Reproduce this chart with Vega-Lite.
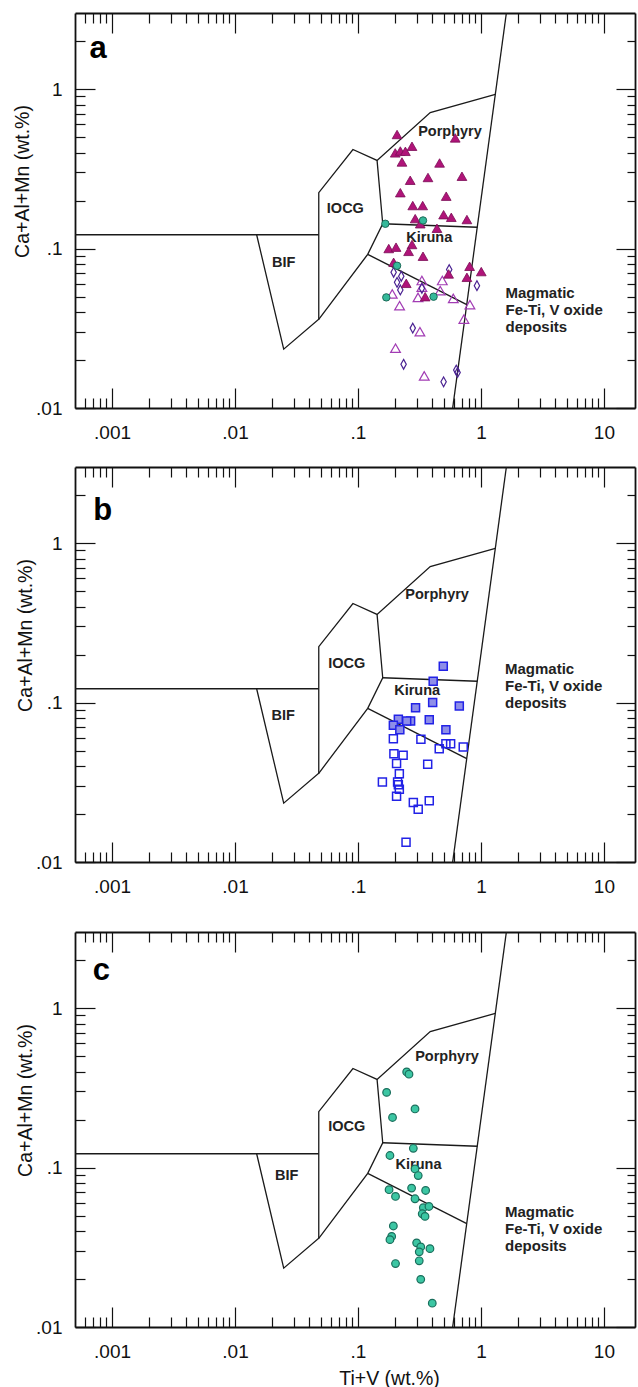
{
  "$schema": "https://vega.github.io/schema/vega-lite/v6.json",
  "background": "white",
  "padding": {"left": 12, "top": 12, "right": 2, "bottom": 0},
  "spacing": 24,
  "config": {
    "view": {"stroke": null},
    "font": "Liberation Sans",
    "axis": {"grid": false, "labelFont": "Liberation Sans", "titleFont": "Liberation Sans", "labelColor": "#111", "titleColor": "#111", "tickColor": "#111", "domainColor": "#111", "labelFontSize": 19, "titleFontSize": 19.5, "titleFontWeight": "normal", "labelOverlap": false, "labelFlush": false, "tickWidth": 1.2, "domainWidth": 1.8}
  },
  "datasets": {
    "bounds": [
      {"path": 1, "ord": 1, "x": 0.0004, "y": 0.122}, {"path": 1, "ord": 2, "x": 0.048, "y": 0.122},
      {"path": 2, "ord": 1, "x": 0.015, "y": 0.122}, {"path": 2, "ord": 2, "x": 0.0249, "y": 0.0234}, {"path": 2, "ord": 3, "x": 0.048, "y": 0.036}, {"path": 2, "ord": 4, "x": 0.048, "y": 0.224}, {"path": 2, "ord": 5, "x": 0.091, "y": 0.418}, {"path": 2, "ord": 6, "x": 0.143, "y": 0.357}, {"path": 2, "ord": 7, "x": 0.387, "y": 0.713}, {"path": 2, "ord": 8, "x": 1.31, "y": 0.926},
      {"path": 3, "ord": 1, "x": 0.143, "y": 0.357}, {"path": 3, "ord": 2, "x": 0.159, "y": 0.143}, {"path": 3, "ord": 3, "x": 0.12, "y": 0.092}, {"path": 3, "ord": 4, "x": 0.048, "y": 0.036},
      {"path": 4, "ord": 1, "x": 0.159, "y": 0.143}, {"path": 4, "ord": 2, "x": 0.933, "y": 0.136},
      {"path": 5, "ord": 1, "x": 0.12, "y": 0.092}, {"path": 5, "ord": 2, "x": 0.767, "y": 0.0445},
      {"path": 6, "ord": 1, "x": 0.589, "y": 0.01}, {"path": 6, "ord": 2, "x": 1.61, "y": 3.0}
    ],
    "la": [
      {"kind": "region", "label": "BIF", "x": 0.0249, "y": 0.081},
      {"kind": "region", "label": "IOCG", "x": 0.079, "y": 0.178},
      {"kind": "region", "label": "Porphyry", "x": 0.56, "y": 0.539},
      {"kind": "region", "label": "Kiruna", "x": 0.38, "y": 0.117},
      {"kind": "magmatic", "label": "Magmatic\nFe-Ti, V oxide\ndeposits", "x": 1.585, "y": 0.0585},
      {"kind": "letter", "label": "a", "x": 0.00077, "y": 1.78}
    ],
    "lb": [
      {"kind": "region", "label": "BIF", "x": 0.0247, "y": 0.082},
      {"kind": "region", "label": "IOCG", "x": 0.081, "y": 0.175},
      {"kind": "region", "label": "Porphyry", "x": 0.44, "y": 0.47},
      {"kind": "region", "label": "Kiruna", "x": 0.303, "y": 0.118},
      {"kind": "magmatic", "label": "Magmatic\nFe-Ti, V oxide\ndeposits", "x": 1.57, "y": 0.18},
      {"kind": "letter", "label": "b", "x": 0.00084, "y": 1.6}
    ],
    "lc": [
      {"kind": "region", "label": "BIF", "x": 0.0263, "y": 0.0883},
      {"kind": "region", "label": "IOCG", "x": 0.081, "y": 0.179},
      {"kind": "region", "label": "Porphyry", "x": 0.53, "y": 0.496},
      {"kind": "region", "label": "Kiruna", "x": 0.311, "y": 0.103},
      {"kind": "magmatic", "label": "Magmatic\nFe-Ti, V oxide\ndeposits", "x": 1.57, "y": 0.058},
      {"kind": "letter", "label": "c", "x": 0.00082, "y": 1.7}
    ],
    "pa": [
      {"type": "ft", "x": 0.208, "y": 0.519}, {"type": "ft", "x": 0.618, "y": 0.494}, {"type": "ft", "x": 0.275, "y": 0.438}, {"type": "ft", "x": 0.201, "y": 0.398}, {"type": "ft", "x": 0.221, "y": 0.409}, {"type": "ft", "x": 0.243, "y": 0.407}, {"type": "ft", "x": 0.228, "y": 0.349}, {"type": "ft", "x": 0.461, "y": 0.344}, {"type": "ft", "x": 0.266, "y": 0.268}, {"type": "ft", "x": 0.371, "y": 0.279}, {"type": "ft", "x": 0.701, "y": 0.284}, {"type": "ft", "x": 0.221, "y": 0.224}, {"type": "ft", "x": 0.522, "y": 0.213}, {"type": "ft", "x": 0.279, "y": 0.186}, {"type": "ft", "x": 0.336, "y": 0.186}, {"type": "ft", "x": 0.497, "y": 0.163}, {"type": "ft", "x": 0.574, "y": 0.157}, {"type": "ft", "x": 0.769, "y": 0.152}, {"type": "ft", "x": 0.292, "y": 0.154}, {"type": "ft", "x": 0.321, "y": 0.143}, {"type": "ft", "x": 0.439, "y": 0.134}, {"type": "ft", "x": 0.178, "y": 0.1}, {"type": "ft", "x": 0.204, "y": 0.102}, {"type": "ft", "x": 0.275, "y": 0.106}, {"type": "ft", "x": 0.258, "y": 0.096}, {"type": "ft", "x": 0.338, "y": 0.0895}, {"type": "ft", "x": 0.195, "y": 0.082}, {"type": "ft", "x": 0.247, "y": 0.0605}, {"type": "ft", "x": 0.809, "y": 0.0774}, {"type": "ft", "x": 1.006, "y": 0.0717}, {"type": "ft", "x": 0.546, "y": 0.0693}, {"type": "ft", "x": 0.769, "y": 0.066}, {"type": "ft", "x": 0.352, "y": 0.0499},
      {"type": "ot", "x": 0.331, "y": 0.063}, {"type": "ot", "x": 0.485, "y": 0.063}, {"type": "ot", "x": 0.331, "y": 0.0572}, {"type": "ot", "x": 0.19, "y": 0.0519}, {"type": "ot", "x": 0.308, "y": 0.0494}, {"type": "ot", "x": 0.467, "y": 0.0545}, {"type": "ot", "x": 0.596, "y": 0.0487}, {"type": "ot", "x": 0.814, "y": 0.0445}, {"type": "ot", "x": 0.218, "y": 0.0438}, {"type": "ot", "x": 0.727, "y": 0.0361}, {"type": "ot", "x": 0.319, "y": 0.0301}, {"type": "ot", "x": 0.202, "y": 0.0237}, {"type": "ot", "x": 0.346, "y": 0.0159},
      {"type": "di", "x": 0.195, "y": 0.071}, {"type": "di", "x": 0.225, "y": 0.067}, {"type": "di", "x": 0.208, "y": 0.0614}, {"type": "di", "x": 0.221, "y": 0.055}, {"type": "di", "x": 0.552, "y": 0.0738}, {"type": "di", "x": 0.331, "y": 0.0563}, {"type": "di", "x": 0.928, "y": 0.0585}, {"type": "di", "x": 0.279, "y": 0.0317}, {"type": "di", "x": 0.235, "y": 0.0188}, {"type": "di", "x": 0.497, "y": 0.0146}, {"type": "di", "x": 0.63, "y": 0.0173}, {"type": "di", "x": 0.646, "y": 0.0167},
      {"type": "tc", "x": 0.167, "y": 0.143}, {"type": "tc", "x": 0.338, "y": 0.15}, {"type": "tc", "x": 0.208, "y": 0.078}, {"type": "tc", "x": 0.17, "y": 0.0494}, {"type": "tc", "x": 0.412, "y": 0.0499}
    ],
    "pb": [
      {"type": "fs", "x": 0.494, "y": 0.169}, {"type": "fs", "x": 0.409, "y": 0.136}, {"type": "fs", "x": 0.294, "y": 0.0928}, {"type": "fs", "x": 0.405, "y": 0.1}, {"type": "fs", "x": 0.667, "y": 0.0951}, {"type": "fs", "x": 0.213, "y": 0.0785}, {"type": "fs", "x": 0.268, "y": 0.0766}, {"type": "fs", "x": 0.249, "y": 0.0766}, {"type": "fs", "x": 0.38, "y": 0.078}, {"type": "fs", "x": 0.194, "y": 0.072}, {"type": "fs", "x": 0.219, "y": 0.0676}, {"type": "fs", "x": 0.519, "y": 0.0676},
      {"type": "os", "x": 0.194, "y": 0.0593}, {"type": "os", "x": 0.325, "y": 0.0588}, {"type": "os", "x": 0.519, "y": 0.0552}, {"type": "os", "x": 0.567, "y": 0.0552}, {"type": "os", "x": 0.458, "y": 0.0513}, {"type": "os", "x": 0.718, "y": 0.0526}, {"type": "os", "x": 0.196, "y": 0.0478}, {"type": "os", "x": 0.233, "y": 0.0467}, {"type": "os", "x": 0.206, "y": 0.0414}, {"type": "os", "x": 0.369, "y": 0.041}, {"type": "os", "x": 0.217, "y": 0.0358}, {"type": "os", "x": 0.158, "y": 0.0317}, {"type": "os", "x": 0.21, "y": 0.0317}, {"type": "os", "x": 0.213, "y": 0.0305}, {"type": "os", "x": 0.217, "y": 0.0286}, {"type": "os", "x": 0.206, "y": 0.0258}, {"type": "os", "x": 0.282, "y": 0.0236}, {"type": "os", "x": 0.38, "y": 0.0242}, {"type": "os", "x": 0.309, "y": 0.0214}, {"type": "os", "x": 0.246, "y": 0.0133}
    ],
    "pc": [
      {"x": 0.249, "y": 0.398}, {"x": 0.26, "y": 0.385}, {"x": 0.171, "y": 0.296}, {"x": 0.291, "y": 0.233}, {"x": 0.191, "y": 0.206}, {"x": 0.282, "y": 0.132}, {"x": 0.182, "y": 0.119}, {"x": 0.291, "y": 0.098}, {"x": 0.309, "y": 0.0891}, {"x": 0.179, "y": 0.0726}, {"x": 0.202, "y": 0.0659}, {"x": 0.273, "y": 0.0743}, {"x": 0.355, "y": 0.0718}, {"x": 0.291, "y": 0.0637}, {"x": 0.34, "y": 0.056}, {"x": 0.378, "y": 0.057}, {"x": 0.333, "y": 0.0513}, {"x": 0.351, "y": 0.0494}, {"x": 0.194, "y": 0.043}, {"x": 0.188, "y": 0.037}, {"x": 0.182, "y": 0.0353}, {"x": 0.3, "y": 0.0337}, {"x": 0.324, "y": 0.0318}, {"x": 0.385, "y": 0.031}, {"x": 0.315, "y": 0.0296}, {"x": 0.315, "y": 0.026}, {"x": 0.202, "y": 0.025}, {"x": 0.324, "y": 0.0199}, {"x": 0.402, "y": 0.0141}
    ]
  },
  "vconcat": [
    {
      "width": 560, "height": 395,
      "resolve": {"axis": {"x": "independent", "y": "independent"}},
      "layer": [
        {"data": {"name": "bounds"}, "mark": {"type": "line", "color": "#1a1a1a", "strokeWidth": 1.3, "clip": true},
         "encoding": {
           "x": {"field": "x", "type": "quantitative", "scale": {"type": "log", "domain": [0.0005, 17.9], "nice": false}, "axis": {"orient": "bottom", "values": [0.001, 0.01, 0.1, 1, 10], "tickSize": -20, "labelPadding": 35, "labelExpr": "datum.value < 1 ? substring(toString(datum.value), 1) : toString(datum.value)", "title": null}},
           "y": {"field": "y", "type": "quantitative", "scale": {"type": "log", "domain": [0.01, 3], "nice": false}, "axis": {"orient": "left", "values": [0.01, 0.1, 1], "tickSize": -20, "labelPadding": 33, "labelExpr": "datum.value < 1 ? substring(toString(datum.value), 1) : toString(datum.value)", "title": "Ca+Al+Mn (wt.%)", "titleX": -53, "titleY": 168, "titleAlign": "center", "titleBaseline": "middle", "titleAngle": -90}},
           "detail": {"field": "path"},
           "order": {"field": "ord"}
         }},
        {"data": {"name": "la"}, "transform": [{"filter": "datum.kind == 'region'"}], "mark": {"type": "text", "font": "Liberation Sans", "fontWeight": "bold", "fontSize": 14.5, "color": "#222", "align": "center", "baseline": "middle"},
         "encoding": {
           "x": {"field": "x", "type": "quantitative", "scale": {"type": "log", "domain": [0.0005, 17.9], "nice": false}, "axis": {"orient": "bottom", "values": [0.0006, 0.0007, 0.0008, 0.0009, 0.002, 0.003, 0.004, 0.005, 0.006, 0.007, 0.008, 0.009, 0.02, 0.03, 0.04, 0.05, 0.06, 0.07, 0.08, 0.09, 0.2, 0.3, 0.4, 0.5, 0.6, 0.7, 0.8, 0.9, 2, 3, 4, 5, 6, 7, 8, 9], "tickSize": -10, "labels": false, "domain": false, "title": null}},
           "y": {"field": "y", "type": "quantitative", "scale": {"type": "log", "domain": [0.01, 3], "nice": false}, "axis": {"orient": "left", "values": [0.02, 0.03, 0.04, 0.05, 0.06, 0.07, 0.08, 0.09, 0.2, 0.3, 0.4, 0.5, 0.6, 0.7, 0.8, 0.9, 2], "tickSize": -10, "labels": false, "domain": false, "title": null}},
           "text": {"field": "label"}
         }},
        {"data": {"name": "la"}, "transform": [{"filter": "datum.kind == 'magmatic'"}], "mark": {"type": "text", "font": "Liberation Sans", "fontWeight": "bold", "fontSize": 15, "lineBreak": "\n", "lineHeight": 17, "color": "#222", "align": "left", "baseline": "top"},
         "encoding": {
           "x": {"field": "x", "type": "quantitative", "scale": {"type": "log", "domain": [0.0005, 17.9], "nice": false}, "axis": {"orient": "top", "values": [0.001, 0.01, 0.1, 1, 10], "tickSize": -20, "labels": false, "domain": true, "title": null}},
           "y": {"field": "y", "type": "quantitative", "scale": {"type": "log", "domain": [0.01, 3], "nice": false}, "axis": {"orient": "right", "values": [0.01, 0.1, 1], "tickSize": -19, "labels": false, "domain": true, "title": null}},
           "text": {"field": "label"}
         }},
        {"data": {"name": "la"}, "transform": [{"filter": "datum.kind == 'letter'"}], "mark": {"type": "text", "font": "Liberation Sans", "fontWeight": "bold", "fontSize": 31, "color": "#000", "align": "center", "baseline": "middle"},
         "encoding": {
           "x": {"field": "x", "type": "quantitative", "scale": {"type": "log", "domain": [0.0005, 17.9], "nice": false}, "axis": {"orient": "top", "values": [0.0006, 0.0007, 0.0008, 0.0009, 0.002, 0.003, 0.004, 0.005, 0.006, 0.007, 0.008, 0.009, 0.02, 0.03, 0.04, 0.05, 0.06, 0.07, 0.08, 0.09, 0.2, 0.3, 0.4, 0.5, 0.6, 0.7, 0.8, 0.9, 2, 3, 4, 5, 6, 7, 8, 9], "tickSize": -10, "labels": false, "domain": false, "title": null}},
           "y": {"field": "y", "type": "quantitative", "scale": {"type": "log", "domain": [0.01, 3], "nice": false}, "axis": {"orient": "right", "values": [0.02, 0.03, 0.04, 0.05, 0.06, 0.07, 0.08, 0.09, 0.2, 0.3, 0.4, 0.5, 0.6, 0.7, 0.8, 0.9, 2], "tickSize": -8, "labels": false, "domain": false, "title": null}},
           "text": {"field": "label"}
         }},
        {"data": {"name": "pa"}, "transform": [{"filter": "datum.type == 'ot'"}], "mark": {"type": "point", "shape": "triangle-up", "filled": false, "stroke": "#a23cb4", "strokeWidth": 1.2, "size": 95, "opacity": 1},
         "encoding": {"x": {"field": "x", "type": "quantitative", "scale": {"type": "log", "domain": [0.0005, 17.9], "nice": false}, "axis": null}, "y": {"field": "y", "type": "quantitative", "scale": {"type": "log", "domain": [0.01, 3], "nice": false}, "axis": null}}},
        {"data": {"name": "pa"}, "transform": [{"filter": "datum.type == 'di'"}], "mark": {"type": "point", "shape": "M0,-1L0.55,0L0,1L-0.55,0Z", "filled": false, "stroke": "#4a2292", "strokeWidth": 1.2, "size": 95, "opacity": 1},
         "encoding": {"x": {"field": "x", "type": "quantitative", "scale": {"type": "log", "domain": [0.0005, 17.9], "nice": false}, "axis": null}, "y": {"field": "y", "type": "quantitative", "scale": {"type": "log", "domain": [0.01, 3], "nice": false}, "axis": null}}},
        {"data": {"name": "pa"}, "transform": [{"filter": "datum.type == 'ft'"}], "mark": {"type": "point", "shape": "triangle-up", "filled": true, "fill": "#b01479", "stroke": "#7a0c55", "strokeWidth": 0.8, "size": 95, "opacity": 1},
         "encoding": {"x": {"field": "x", "type": "quantitative", "scale": {"type": "log", "domain": [0.0005, 17.9], "nice": false}, "axis": null}, "y": {"field": "y", "type": "quantitative", "scale": {"type": "log", "domain": [0.01, 3], "nice": false}, "axis": null}}},
        {"data": {"name": "pa"}, "transform": [{"filter": "datum.type == 'tc'"}], "mark": {"type": "point", "shape": "circle", "filled": true, "fill": "#35b99a", "stroke": "#1d6a58", "strokeWidth": 1, "size": 55, "opacity": 1},
         "encoding": {"x": {"field": "x", "type": "quantitative", "scale": {"type": "log", "domain": [0.0005, 17.9], "nice": false}, "axis": null}, "y": {"field": "y", "type": "quantitative", "scale": {"type": "log", "domain": [0.01, 3], "nice": false}, "axis": null}}}
      ]
    },
    {
      "width": 560, "height": 395,
      "resolve": {"axis": {"x": "independent", "y": "independent"}},
      "layer": [
        {"data": {"name": "bounds"}, "mark": {"type": "line", "color": "#1a1a1a", "strokeWidth": 1.3, "clip": true},
         "encoding": {
           "x": {"field": "x", "type": "quantitative", "scale": {"type": "log", "domain": [0.0005, 17.9], "nice": false}, "axis": {"orient": "bottom", "values": [0.001, 0.01, 0.1, 1, 10], "tickSize": -20, "labelPadding": 35, "labelExpr": "datum.value < 1 ? substring(toString(datum.value), 1) : toString(datum.value)", "title": " ", "titleFontSize": 8, "titlePadding": 3}},
           "y": {"field": "y", "type": "quantitative", "scale": {"type": "log", "domain": [0.01, 3], "nice": false}, "axis": {"orient": "left", "values": [0.01, 0.1, 1], "tickSize": -20, "labelPadding": 33, "labelExpr": "datum.value < 1 ? substring(toString(datum.value), 1) : toString(datum.value)", "title": "Ca+Al+Mn (wt.%)", "titleX": -50, "titleY": 168, "titleAlign": "center", "titleBaseline": "middle", "titleAngle": -90}},
           "detail": {"field": "path"},
           "order": {"field": "ord"}
         }},
        {"data": {"name": "lb"}, "transform": [{"filter": "datum.kind == 'region'"}], "mark": {"type": "text", "font": "Liberation Sans", "fontWeight": "bold", "fontSize": 14.5, "color": "#222", "align": "center", "baseline": "middle"},
         "encoding": {
           "x": {"field": "x", "type": "quantitative", "scale": {"type": "log", "domain": [0.0005, 17.9], "nice": false}, "axis": {"orient": "bottom", "values": [0.0006, 0.0007, 0.0008, 0.0009, 0.002, 0.003, 0.004, 0.005, 0.006, 0.007, 0.008, 0.009, 0.02, 0.03, 0.04, 0.05, 0.06, 0.07, 0.08, 0.09, 0.2, 0.3, 0.4, 0.5, 0.6, 0.7, 0.8, 0.9, 2, 3, 4, 5, 6, 7, 8, 9], "tickSize": -10, "labels": false, "domain": false, "title": null}},
           "y": {"field": "y", "type": "quantitative", "scale": {"type": "log", "domain": [0.01, 3], "nice": false}, "axis": {"orient": "left", "values": [0.02, 0.03, 0.04, 0.05, 0.06, 0.07, 0.08, 0.09, 0.2, 0.3, 0.4, 0.5, 0.6, 0.7, 0.8, 0.9, 2], "tickSize": -10, "labels": false, "domain": false, "title": null}},
           "text": {"field": "label"}
         }},
        {"data": {"name": "lb"}, "transform": [{"filter": "datum.kind == 'magmatic'"}], "mark": {"type": "text", "font": "Liberation Sans", "fontWeight": "bold", "fontSize": 15, "lineBreak": "\n", "lineHeight": 17, "color": "#222", "align": "left", "baseline": "top"},
         "encoding": {
           "x": {"field": "x", "type": "quantitative", "scale": {"type": "log", "domain": [0.0005, 17.9], "nice": false}, "axis": {"orient": "top", "values": [0.001, 0.01, 0.1, 1, 10], "tickSize": -20, "labels": false, "domain": true, "title": null}},
           "y": {"field": "y", "type": "quantitative", "scale": {"type": "log", "domain": [0.01, 3], "nice": false}, "axis": {"orient": "right", "values": [0.01, 0.1, 1], "tickSize": -19, "labels": false, "domain": true, "title": null}},
           "text": {"field": "label"}
         }},
        {"data": {"name": "lb"}, "transform": [{"filter": "datum.kind == 'letter'"}], "mark": {"type": "text", "font": "Liberation Sans", "fontWeight": "bold", "fontSize": 31, "color": "#000", "align": "center", "baseline": "middle"},
         "encoding": {
           "x": {"field": "x", "type": "quantitative", "scale": {"type": "log", "domain": [0.0005, 17.9], "nice": false}, "axis": {"orient": "top", "values": [0.0006, 0.0007, 0.0008, 0.0009, 0.002, 0.003, 0.004, 0.005, 0.006, 0.007, 0.008, 0.009, 0.02, 0.03, 0.04, 0.05, 0.06, 0.07, 0.08, 0.09, 0.2, 0.3, 0.4, 0.5, 0.6, 0.7, 0.8, 0.9, 2, 3, 4, 5, 6, 7, 8, 9], "tickSize": -10, "labels": false, "domain": false, "title": null}},
           "y": {"field": "y", "type": "quantitative", "scale": {"type": "log", "domain": [0.01, 3], "nice": false}, "axis": {"orient": "right", "values": [0.02, 0.03, 0.04, 0.05, 0.06, 0.07, 0.08, 0.09, 0.2, 0.3, 0.4, 0.5, 0.6, 0.7, 0.8, 0.9, 2], "tickSize": -8, "labels": false, "domain": false, "title": null}},
           "text": {"field": "label"}
         }},
        {"data": {"name": "pb"}, "transform": [{"filter": "datum.type == 'os'"}], "mark": {"type": "point", "shape": "square", "filled": false, "stroke": "#2222e6", "strokeWidth": 1.5, "size": 64, "opacity": 1},
         "encoding": {"x": {"field": "x", "type": "quantitative", "scale": {"type": "log", "domain": [0.0005, 17.9], "nice": false}, "axis": null}, "y": {"field": "y", "type": "quantitative", "scale": {"type": "log", "domain": [0.01, 3], "nice": false}, "axis": null}}},
        {"data": {"name": "pb"}, "transform": [{"filter": "datum.type == 'fs'"}], "mark": {"type": "point", "shape": "square", "filled": true, "fill": "#8e8ee8", "stroke": "#2222e6", "strokeWidth": 1.5, "size": 64, "opacity": 1},
         "encoding": {"x": {"field": "x", "type": "quantitative", "scale": {"type": "log", "domain": [0.0005, 17.9], "nice": false}, "axis": null}, "y": {"field": "y", "type": "quantitative", "scale": {"type": "log", "domain": [0.01, 3], "nice": false}, "axis": null}}}
      ]
    },
    {
      "width": 560, "height": 395,
      "resolve": {"axis": {"x": "independent", "y": "independent"}},
      "layer": [
        {"data": {"name": "bounds"}, "mark": {"type": "line", "color": "#1a1a1a", "strokeWidth": 1.3, "clip": true},
         "encoding": {
           "x": {"field": "x", "type": "quantitative", "scale": {"type": "log", "domain": [0.0005, 17.9], "nice": false}, "axis": {"orient": "bottom", "values": [0.001, 0.01, 0.1, 1, 10], "tickSize": -20, "labelPadding": 35, "labelExpr": "datum.value < 1 ? substring(toString(datum.value), 1) : toString(datum.value)", "title": "Ti+V (wt.%)", "titleX": 314, "titleY": 42, "titleAlign": "center", "titleBaseline": "top"}},
           "y": {"field": "y", "type": "quantitative", "scale": {"type": "log", "domain": [0.01, 3], "nice": false}, "axis": {"orient": "left", "values": [0.01, 0.1, 1], "tickSize": -20, "labelPadding": 33, "labelExpr": "datum.value < 1 ? substring(toString(datum.value), 1) : toString(datum.value)", "title": "Ca+Al+Mn (wt.%)", "titleX": -50, "titleY": 168, "titleAlign": "center", "titleBaseline": "middle", "titleAngle": -90}},
           "detail": {"field": "path"},
           "order": {"field": "ord"}
         }},
        {"data": {"name": "lc"}, "transform": [{"filter": "datum.kind == 'region'"}], "mark": {"type": "text", "font": "Liberation Sans", "fontWeight": "bold", "fontSize": 14.5, "color": "#222", "align": "center", "baseline": "middle"},
         "encoding": {
           "x": {"field": "x", "type": "quantitative", "scale": {"type": "log", "domain": [0.0005, 17.9], "nice": false}, "axis": {"orient": "bottom", "values": [0.0006, 0.0007, 0.0008, 0.0009, 0.002, 0.003, 0.004, 0.005, 0.006, 0.007, 0.008, 0.009, 0.02, 0.03, 0.04, 0.05, 0.06, 0.07, 0.08, 0.09, 0.2, 0.3, 0.4, 0.5, 0.6, 0.7, 0.8, 0.9, 2, 3, 4, 5, 6, 7, 8, 9], "tickSize": -10, "labels": false, "domain": false, "title": null}},
           "y": {"field": "y", "type": "quantitative", "scale": {"type": "log", "domain": [0.01, 3], "nice": false}, "axis": {"orient": "left", "values": [0.02, 0.03, 0.04, 0.05, 0.06, 0.07, 0.08, 0.09, 0.2, 0.3, 0.4, 0.5, 0.6, 0.7, 0.8, 0.9, 2], "tickSize": -10, "labels": false, "domain": false, "title": null}},
           "text": {"field": "label"}
         }},
        {"data": {"name": "lc"}, "transform": [{"filter": "datum.kind == 'magmatic'"}], "mark": {"type": "text", "font": "Liberation Sans", "fontWeight": "bold", "fontSize": 15, "lineBreak": "\n", "lineHeight": 17, "color": "#222", "align": "left", "baseline": "top"},
         "encoding": {
           "x": {"field": "x", "type": "quantitative", "scale": {"type": "log", "domain": [0.0005, 17.9], "nice": false}, "axis": {"orient": "top", "values": [0.001, 0.01, 0.1, 1, 10], "tickSize": -20, "labels": false, "domain": true, "title": null}},
           "y": {"field": "y", "type": "quantitative", "scale": {"type": "log", "domain": [0.01, 3], "nice": false}, "axis": {"orient": "right", "values": [0.01, 0.1, 1], "tickSize": -19, "labels": false, "domain": true, "title": null}},
           "text": {"field": "label"}
         }},
        {"data": {"name": "lc"}, "transform": [{"filter": "datum.kind == 'letter'"}], "mark": {"type": "text", "font": "Liberation Sans", "fontWeight": "bold", "fontSize": 31, "color": "#000", "align": "center", "baseline": "middle"},
         "encoding": {
           "x": {"field": "x", "type": "quantitative", "scale": {"type": "log", "domain": [0.0005, 17.9], "nice": false}, "axis": {"orient": "top", "values": [0.0006, 0.0007, 0.0008, 0.0009, 0.002, 0.003, 0.004, 0.005, 0.006, 0.007, 0.008, 0.009, 0.02, 0.03, 0.04, 0.05, 0.06, 0.07, 0.08, 0.09, 0.2, 0.3, 0.4, 0.5, 0.6, 0.7, 0.8, 0.9, 2, 3, 4, 5, 6, 7, 8, 9], "tickSize": -10, "labels": false, "domain": false, "title": null}},
           "y": {"field": "y", "type": "quantitative", "scale": {"type": "log", "domain": [0.01, 3], "nice": false}, "axis": {"orient": "right", "values": [0.02, 0.03, 0.04, 0.05, 0.06, 0.07, 0.08, 0.09, 0.2, 0.3, 0.4, 0.5, 0.6, 0.7, 0.8, 0.9, 2], "tickSize": -8, "labels": false, "domain": false, "title": null}},
           "text": {"field": "label"}
         }},
        {"data": {"name": "pc"}, "mark": {"type": "point", "shape": "circle", "filled": true, "fill": "#3cc6a3", "stroke": "#1a6e5c", "strokeWidth": 1.2, "size": 58, "opacity": 1},
         "encoding": {"x": {"field": "x", "type": "quantitative", "scale": {"type": "log", "domain": [0.0005, 17.9], "nice": false}, "axis": null}, "y": {"field": "y", "type": "quantitative", "scale": {"type": "log", "domain": [0.01, 3], "nice": false}, "axis": null}}}
      ]
    }
  ]
}
